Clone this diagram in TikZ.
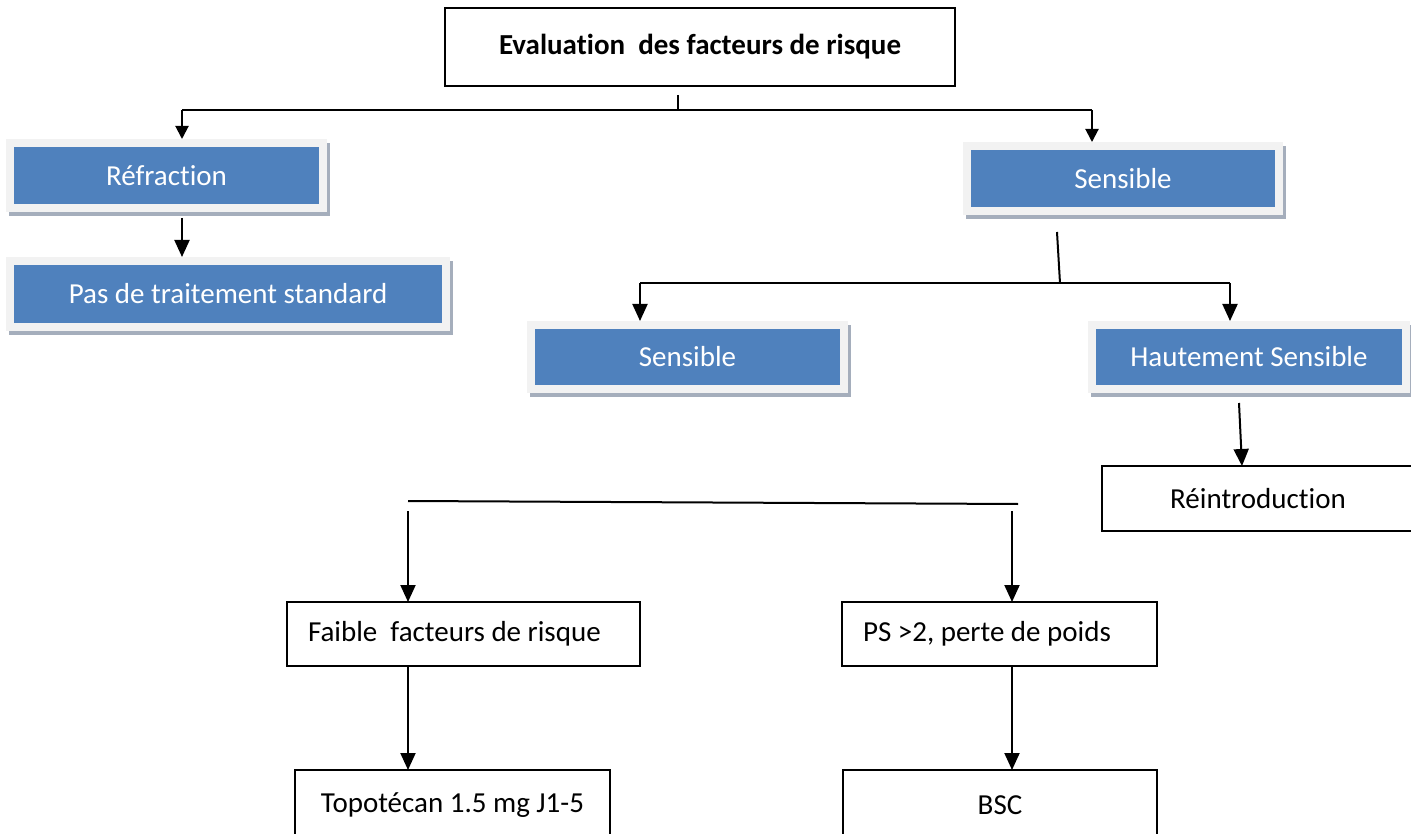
\documentclass[tikz,border=0pt]{standalone}
\usepackage{fontspec}
\setmainfont{Carlito}[Ligatures=NoCommon]
\usetikzlibrary{arrows.meta}
\definecolor{boxblue}{HTML}{4F81BD}
\definecolor{framegrey}{HTML}{F2F2F2}
\definecolor{shadegrey}{HTML}{A5AEBC}

\begin{document}
\begin{tikzpicture}[x=1pt,y=-1pt,
  every node/.style={font=\fontsize{29}{34}\selectfont, inner sep=0pt, outer sep=0pt},
  bluebox/.style={rectangle, fill=boxblue, draw=framegrey, line width=8pt,
    text=white, outer sep=4pt,
    preaction={draw=shadegrey, fill=shadegrey, line width=8pt,
      transform canvas={shift={(3pt,-4pt)}}}},
  plainbox/.style={rectangle, draw=black, line width=1.5pt, fill=white},
  leftbox/.style={plainbox, align=flush left, inner xsep=21pt},
  link/.style={draw=black, line width=2pt},
  arr/.style={link, -{Triangle[width=15pt,length=17pt]}},
  smallarr/.style={link, -{Triangle[width=13pt,length=13pt]}}]

\path[use as bounding box, clip] (0,0) rectangle (1411,834);
\fill[white] (0,0) rectangle (1411,834);

% top level
\node[plainbox, minimum width=510, minimum height=78] (eval) at (700,47)
  {\raisebox{5pt}{\bfseries Evaluation\ \ des facteurs de risque}};

% first split
\node[bluebox, minimum width=313, minimum height=65] (refr) at (166.5,175.5) {Réfraction};
\node[bluebox, minimum width=436, minimum height=66] (pas) at (228,294) {Pas de traitement standard};
\node[bluebox, minimum width=312, minimum height=65] (sensA) at (1123,178.5) {Sensible};

% second split
\node[bluebox, minimum width=313, minimum height=64] (sensB) at (687.5,357) {Sensible};
\node[bluebox, minimum width=314, minimum height=64] (haut) at (1249,357) {Hautement Sensible};
\node[plainbox, minimum width=312, minimum height=65] (reint) at (1258,498.5) {Réintroduction};

% lower branch
\node[leftbox, text width=311, minimum height=64] (faible) at (463.5,634) {Faible\ \ facteurs de risque};
\node[leftbox, text width=273, minimum height=64] (ps) at (999.5,634) {PS >2, perte de poids};
\node[plainbox, minimum width=315, minimum height=70] (topo) at (452.5,805) {Topotécan 1.5 mg J1-5};
\node[plainbox, minimum width=314, minimum height=70] (bsc) at (1000,805) {BSC};

% connectors: evaluation split
\coordinate (t0) at (678,95);
\coordinate (t1) at (678,110);
\coordinate (tl) at (182,110);
\coordinate (tr) at (1092,110);
\draw[link] (t0) -- (t1);
\draw[link] (tl) -- (tr);
\draw[smallarr] (tl) -- (tl |- refr.north);
\draw[smallarr] (tr) -- (tr |- sensA.north);

\coordinate (r0) at (182,218);
\draw[arr] (r0) -- (r0 |- pas.north);

% connectors: sensitive split
\coordinate (s0) at (1057,232);
\coordinate (s1) at (1060,283);
\coordinate (sl) at (640,283);
\coordinate (sr) at (1230,283);
\draw[link] (s0) -- (s1);
\draw[link] (sl) -- (sr);
\draw[arr] (sl) -- (sl |- sensB.north);
\draw[arr] (sr) -- (sr |- haut.north);

\coordinate (h0) at (1239,403);
\draw[arr] (h0) -- (1242,0 |- reint.north);

% connectors: risk factor split
\coordinate (ll) at (408,501);
\coordinate (lr) at (1018,504);
\draw[link] (ll) -- (lr);
\coordinate (la) at (408,511);
\coordinate (lb) at (1012,511);
\draw[arr] (la) -- (la |- faible.north);
\draw[arr] (lb) -- (lb |- ps.north);

\draw[arr] (la |- faible.south) -- (la |- topo.north);
\draw[arr] (lb |- ps.south) -- (lb |- bsc.north);
\end{tikzpicture}
\end{document}
